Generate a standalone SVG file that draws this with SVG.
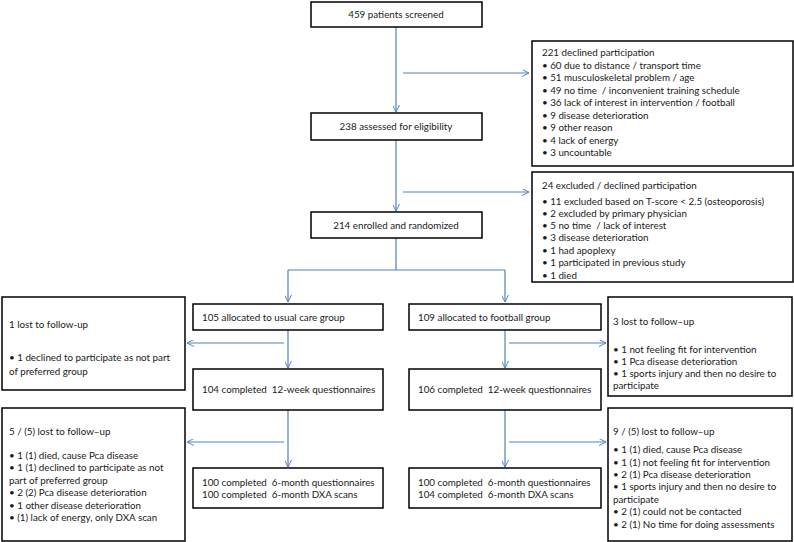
<svg xmlns="http://www.w3.org/2000/svg" width="794" height="542" viewBox="0 0 794 542">
<style>
.box{fill:#fff;stroke:#000;stroke-width:1.5}
text{font-family:Lato,"Liberation Sans",sans-serif;font-size:9.8px;fill:#1a1a1a;white-space:pre}
.c{text-anchor:middle}
.ln{fill:none;stroke:#4f81bd;stroke-width:1.2}
</style>
<defs>
<marker id="ah" viewBox="0 0 10 10" refX="10" refY="5" markerWidth="7" markerHeight="7" markerUnits="userSpaceOnUse" orient="auto">
<path d="M0,0 L10,5 L0,10" fill="none" stroke="#4f81bd" stroke-width="1.4"/>
</marker>
</defs>
<rect width="794" height="542" fill="#fff"/>
<g id="connectors">
<path class="ln" d="M396,27 V112" marker-end="url(#ah)"/>
<path class="ln" d="M403,73 H529" marker-end="url(#ah)"/>
<path class="ln" d="M396,140 V211" marker-end="url(#ah)"/>
<path class="ln" d="M403,192 H529" marker-end="url(#ah)"/>
<path class="ln" d="M396,238 V270 M288,270 H505"/>
<path class="ln" d="M288,270 V302" marker-end="url(#ah)"/>
<path class="ln" d="M505,270 V302" marker-end="url(#ah)"/>
<path class="ln" d="M288,330 V368" marker-end="url(#ah)"/>
<path class="ln" d="M284,343 H187" marker-end="url(#ah)"/>
<path class="ln" d="M505,330 V368" marker-end="url(#ah)"/>
<path class="ln" d="M509,343 H606" marker-end="url(#ah)"/>
<path class="ln" d="M288,410 V467" marker-end="url(#ah)"/>
<path class="ln" d="M284,442 H187" marker-end="url(#ah)"/>
<path class="ln" d="M505,410 V467" marker-end="url(#ah)"/>
<path class="ln" d="M509,442 H606" marker-end="url(#ah)"/>
</g>
<g id="n1">
<rect class="box" x="311" y="2" width="171" height="25"/>
<text class="c" x="396" y="18">459 patients screened</text>
</g>
<g id="n2">
<rect class="box" x="311" y="113" width="171" height="27"/>
<text class="c" x="396" y="130">238 assessed for eligibility</text>
</g>
<g id="n3">
<rect class="box" x="311" y="212" width="171" height="26"/>
<text class="c" x="396" y="229">214 enrolled and randomized</text>
</g>
<g id="r1">
<rect class="box" x="532" y="41" width="261" height="125"/>
<text x="542" y="56">221 declined participation</text>
<text x="542" y="69">• 60 due to distance / transport time</text>
<text x="542" y="81">• 51 musculoskeletal problem / age</text>
<text x="542" y="94">• 49 no time  / inconvenient training schedule</text>
<text x="542" y="106">• 36 lack of interest in intervention / football</text>
<text x="542" y="119">• 9 disease deterioration</text>
<text x="542" y="131">• 9 other reason</text>
<text x="542" y="144">• 4 lack of energy</text>
<text x="542" y="156">• 3 uncountable</text>
</g>
<g id="r2">
<rect class="box" x="532" y="172" width="261" height="110"/>
<text x="542" y="189">24 excluded / declined participation</text>
<text x="542" y="205">• 11 excluded based on T-score &lt; 2.5 (osteoporosis)</text>
<text x="542" y="217">• 2 excluded by primary physician</text>
<text x="542" y="229">• 5 no time  / lack of interest</text>
<text x="542" y="241">• 3 disease deterioration</text>
<text x="542" y="254">• 1 had apoplexy</text>
<text x="542" y="266">• 1 participated in previous study</text>
<text x="542" y="279">• 1 died</text>
</g>
<g id="usual">
<rect class="box" x="193" y="304" width="190" height="26"/>
<text x="202" y="321">105 allocated to usual care group</text>
</g>
<g id="football">
<rect class="box" x="409" y="304" width="192" height="26"/>
<text x="418" y="321">109 allocated to football group</text>
</g>
<g id="lost1">
<rect class="box" x="2" y="297" width="183" height="93"/>
<text x="9" y="328">1 lost to follow-up</text>
<text x="9" y="361">• 1 declined to participate as not part</text>
<text x="9" y="375">of preferred group</text>
</g>
<g id="lost2">
<rect class="box" x="608" y="297" width="184" height="99"/>
<text x="613" y="325">3 lost to follow–up</text>
<text x="613" y="353">• 1 not feeling fit for intervention</text>
<text x="613" y="365">• 1 Pca disease deterioration</text>
<text x="613" y="377">• 1 sports injury and then no desire to</text>
<text x="613" y="389">participate</text>
</g>
<g id="usual12">
<rect class="box" x="193" y="369" width="190" height="41"/>
<text x="202" y="393">104 completed  12-week questionnaires</text>
</g>
<g id="football12">
<rect class="box" x="409" y="369" width="192" height="41"/>
<text x="418" y="393">106 completed  12-week questionnaires</text>
</g>
<g id="lost3">
<rect class="box" x="2" y="408" width="183" height="133"/>
<text x="9" y="435">5 / (5) lost to follow–up</text>
<text x="9" y="459">• 1 (1) died, cause Pca disease</text>
<text x="9" y="471">• 1 (1) declined to participate as not</text>
<text x="9" y="484">part of preferred group</text>
<text x="9" y="496">• 2 (2) Pca disease deterioration</text>
<text x="9" y="509">• 1 other disease deterioration</text>
<text x="9" y="521">• (1) lack of energy, only DXA scan</text>
</g>
<g id="usual6">
<rect class="box" x="193" y="468" width="190" height="40"/>
<text x="202" y="486">100 completed  6-month questionnaires</text>
<text x="202" y="498">100 completed  6-month DXA scans</text>
</g>
<g id="football6">
<rect class="box" x="409" y="468" width="192" height="40"/>
<text x="418" y="486">100 completed  6-month questionnaires</text>
<text x="418" y="498">104 completed  6-month DXA scans</text>
</g>
<g id="lost4">
<rect class="box" x="608" y="408" width="184" height="133"/>
<text x="613" y="435">9 / (5) lost to follow–up</text>
<text x="613" y="453">• 1 (1) died, cause Pca disease</text>
<text x="613" y="466">• 1 (1) not feeling fit for intervention</text>
<text x="613" y="478">• 2 (1) Pca disease deterioration</text>
<text x="613" y="490">• 1 sports injury and then no desire to</text>
<text x="613" y="503">participate</text>
<text x="613" y="515">• 2 (1) could not be contacted</text>
<text x="613" y="528">• 2 (1) No time for doing assessments</text>
</g>
</svg>
